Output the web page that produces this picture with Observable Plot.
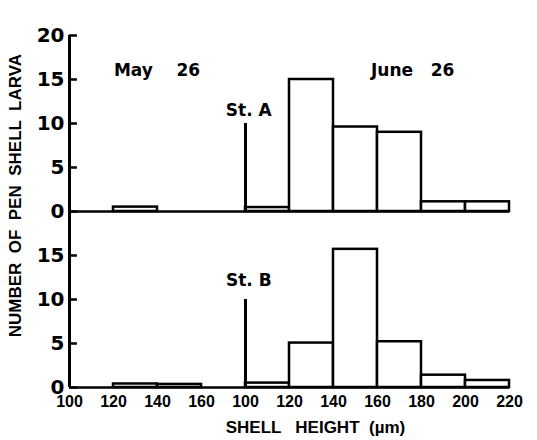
<!DOCTYPE html>
<html><head><meta charset="utf-8">
<script src="https://cdn.jsdelivr.net/npm/d3@7"></script>
<script src="https://cdn.jsdelivr.net/npm/@observablehq/plot@0.6"></script>
<style>
body{margin:0;background:#fff;}
svg text{white-space:pre;}
g[aria-label="y-title"] text{letter-spacing:3px;}
g[aria-label="x-title"] text{letter-spacing:4px;}
g[aria-label="date-labels"] text{letter-spacing:1.5px;}
g[aria-label="y-tick-labels"] text{letter-spacing:2px;}
</style></head><body><div id="chart"></div>
<script>
// ---- data ----
const stations = ["St. A", "St. B"];
const mayBinStarts = [100, 120, 140, 160];
const juneBinStarts = [100, 120, 140, 160, 180, 200];
const binWidth = 20;
const mayCountsA = [0, 0.5, 0, 0];
const mayCountsB = [0, 0.4, 0.35, 0];
const juneCountsA = [0.45, 15, 9.6, 9.0, 1.1, 1.1];
const juneCountsB = [0.5, 5.05, 15.7, 5.2, 1.4, 0.8];
const juneOffset = 80; // June axis starts where the May axis ends (May 180 = June 100)
const xTickPositions = [100, 120, 140, 160, 180, 200, 220, 240, 260, 280, 300];
const xTickLabels = ["100", "120", "140", "160", "100", "120", "140", "160", "180", "200", "220"];
const yTicksA = [0, 5, 10, 15, 20];
const yTicksB = [0, 5, 10, 15];
const dateLabels = ["May    26", "June   26"];
const dateLabelX = [139.8, 256];
const dateLabelY = 16;
const stationLabelX = 181.5;
const stationLabelY = [11.5, 12.1];
const yTitle = "NUMBER  OF  PEN  SHELL  LARVA";
const xTitle = "SHELL   HEIGHT  (µm)";
const yTitlePos = 1.8;
const xTitlePos = 211.8;
const xMin = 100, xMax = 300, yMax = 20, separatorTop = 10;

// ---- build tables ----
const bars = [];
[[mayCountsA, juneCountsA], [mayCountsB, juneCountsB]].forEach(([may, june], s) => {
  mayBinStarts.forEach((b, i) => bars.push({station: stations[s], x1: b, x2: b + binWidth, count: may[i]}));
  juneBinStarts.forEach((b, i) => bars.push({station: stations[s], x1: b + juneOffset, x2: b + juneOffset + binWidth, count: june[i]}));
});
const yTickRows = [
  ...yTicksA.map(v => ({station: stations[0], v, x0: xMin, x1: xMin + 3.6})),
  ...yTicksB.map(v => ({station: stations[1], v, x0: xMin, x1: xMin + 3.6}))
];
const panels = stations.map(station => ({station, xa: xMin, xb: xMax, xs: xMin + juneOffset, y0: 0, y1: yMax, ys: separatorTop}));
const labelMap = new Map(xTickPositions.map((p, i) => [p, xTickLabels[i]]));
const dates = dateLabels.map((t, i) => ({station: stations[0], t, lx: dateLabelX[i], ly: dateLabelY}));
const stLabels = stations.map((s, i) => ({station: s, t: s, lx: stationLabelX, ly: stationLabelY[i]}));
const yTitleRow = [{station: stations[0], t: yTitle, ly: yTitlePos}];
const xTitleRow = [{station: stations[1], t: xTitle, lx: xTitlePos}];

const bold = {fontWeight: "bold", fontFamily: "DejaVu Sans"};
const boldL = {fontWeight: "bold", fontFamily: "Liberation Sans"};

const chart = Plot.plot({
  width: 537,
  height: 440,
  marginLeft: 69,
  marginRight: 28,
  marginTop: 35,
  marginBottom: 53,
  style: {fontFamily: "DejaVu Sans", background: "white", color: "black"},
  x: {domain: [xMin, xMax]},
  y: {domain: [0, yMax], axis: null},
  fy: {domain: stations, padding: 0, axis: null},
  marks: [
    Plot.text(dates, {fy: "station", x: "lx", y: "ly", text: "t", fontSize: 17, ariaLabel: "date-labels", ...bold}),
    Plot.text(stLabels, {fy: "station", x: "lx", y: "ly", text: "t", fontSize: 17, ...bold}),
    Plot.text(yTitleRow, {fy: "station", y: "ly", text: "t", frameAnchor: "left", textAnchor: "middle", dx: -54, rotate: -90, fontSize: 17, ariaLabel: "y-title", ...boldL}),
    Plot.text(xTitleRow, {fy: "station", x: "lx", text: "t", frameAnchor: "bottom", textAnchor: "middle", dy: 45, fontSize: 17, ariaLabel: "x-title", ...boldL}),
    Plot.axisX({ticks: xTickPositions, tickSize: 0, tickPadding: 8, tickFormat: d => labelMap.get(d), label: null,
      fontSize: 16, ...boldL}),
    Plot.ruleY(panels, {fy: "station", y: "y0", x1: "xa", x2: "xb", stroke: "black", strokeWidth: 2.5}),
    Plot.rect(bars, {x1: "x1", x2: "x2", y1: 0, y2: "count", fy: "station", fill: "white", stroke: "black", strokeWidth: 2.5}),
    Plot.ruleX(panels, {fy: "station", x: "xa", y1: "y0", y2: "y1", stroke: "black", strokeWidth: 3}),
    Plot.ruleX(panels, {fy: "station", x: "xs", y1: "y0", y2: "ys", stroke: "black", strokeWidth: 3}),
    Plot.ruleY(yTickRows, {fy: "station", y: "v", x1: "x0", x2: "x1", stroke: "black", strokeWidth: 2.5}),
    Plot.text(yTickRows, {fy: "station", y: "v", text: d => String(d.v), frameAnchor: "left", textAnchor: "end", dx: -5, fontSize: 20, ariaLabel: "y-tick-labels", ...bold})
  ]
});
document.getElementById("chart").appendChild(chart);
</script>
</body></html>
